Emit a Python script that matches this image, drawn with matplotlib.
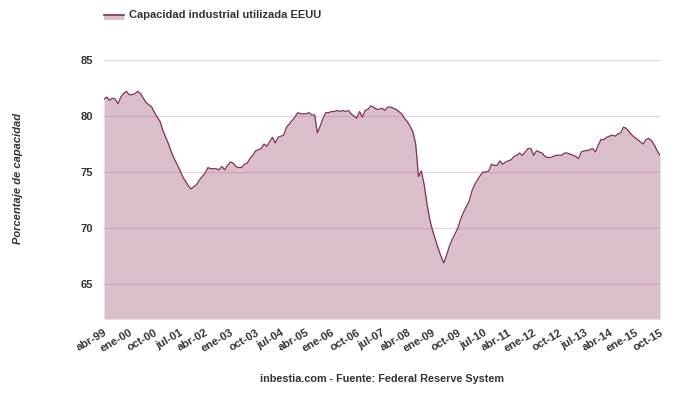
import matplotlib
matplotlib.use("Agg")
import matplotlib.pyplot as plt
from matplotlib.patches import Rectangle
from matplotlib.lines import Line2D

plt.rcParams['font.family'] = ['Liberation Sans', 'DejaVu Sans']

months_es = ["ene", "feb", "mar", "abr", "may", "jun", "jul", "ago", "sep", "oct", "nov", "dic"]
start_year, start_month = 1999, 4  # abr-99

capacity = [
    81.5, 81.7, 81.4, 81.6, 81.5, 81.1, 81.7, 82.0, 82.2, 81.9,
    81.9, 82.0, 82.2, 82.0, 81.6, 81.2, 81.0, 80.8, 80.3, 79.9,
    79.5, 78.7, 78.1, 77.5, 76.8, 76.2, 75.7, 75.2, 74.6, 74.2,
    73.8, 73.5, 73.7, 73.9, 74.3, 74.6, 74.9, 75.4, 75.3, 75.3,
    75.3, 75.2, 75.5, 75.2, 75.6, 75.9, 75.8, 75.5, 75.4, 75.4,
    75.7, 75.8, 76.2, 76.5, 76.9, 77.0, 77.1, 77.5, 77.3, 77.7,
    78.1, 77.6, 78.1, 78.2, 78.3, 79.0, 79.3, 79.6, 79.9, 80.3,
    80.2, 80.2, 80.2, 80.3, 80.1, 80.1, 78.5, 79.1, 79.8, 80.3,
    80.3, 80.4, 80.4, 80.5, 80.4, 80.5, 80.4, 80.5, 80.2, 80.0,
    79.8, 80.4, 79.9, 80.5, 80.6, 80.9, 80.8, 80.6, 80.6, 80.7,
    80.5, 80.8, 80.8, 80.7, 80.6, 80.4, 80.2, 79.8, 79.5, 79.1,
    78.6, 77.5, 74.6, 75.1, 73.9, 72.2, 70.8, 69.8, 69.0, 68.2,
    67.5, 66.9, 67.6, 68.4, 69.0, 69.5, 70.0, 70.8, 71.4, 71.9,
    72.4, 73.3, 73.9, 74.3, 74.7, 75.0, 75.0, 75.1, 75.7, 75.6,
    75.6, 76.0, 75.7, 75.9, 76.0, 76.1, 76.4, 76.5, 76.7, 76.5,
    76.8, 77.1, 77.1, 76.5, 76.9, 76.8, 76.7, 76.4, 76.3, 76.3,
    76.4, 76.5, 76.5, 76.5, 76.7, 76.7, 76.6, 76.5, 76.4, 76.2,
    76.8, 76.9, 76.9, 77.0, 77.1, 76.8, 77.4, 77.9, 77.9, 78.1,
    78.2, 78.3, 78.2, 78.4, 78.5, 79.0, 78.9, 78.6, 78.3, 78.1,
    77.9, 77.7, 77.5, 77.9, 78.0, 77.8, 77.4, 76.9, 76.5,
]

categories = []
for i in range(len(capacity)):
    m = (start_month - 1 + i) % 12
    y = start_year + (start_month - 1 + i) // 12
    categories.append(f"{months_es[m]}-{y % 100:02d}")

tick_step = 9
y_ticks = [65, 70, 75, 80, 85]
series_name = "Capacidad industrial utilizada EEUU"
y_title = "Porcentaje de capacidad"
footer = "inbestia.com - Fuente: Federal Reserve System"

line_color = "#7e3058"
fill_color = "#b47592"
grid_color = "#ecd0dc"
text_color = "#333333"

fig = plt.figure(figsize=(6.8, 3.97), dpi=100)
ax = fig.add_axes([0.1529, 0.1965, 0.8177, 0.6525])

x = list(range(len(capacity)))
ymin = 61.9
ax.fill_between(x, capacity, ymin, color=fill_color, alpha=0.47, linewidth=0, zorder=2)
ax.plot(x, capacity, color=line_color, linewidth=0.9, zorder=3)

ax.set_xlim(0, len(capacity) - 1)
ax.set_ylim(ymin, 85)
ax.set_yticks(y_ticks)
ax.set_yticklabels([str(v) for v in y_ticks], fontsize=8, fontweight='bold', color=text_color)
ax.yaxis.grid(True, color=grid_color, linewidth=0.9, zorder=1)
ax.set_axisbelow(True)

xt = list(range(0, len(capacity), tick_step))
ax.set_xticks(xt)
ax.set_xticklabels([categories[i] for i in xt], rotation=30, ha='right', va='top',
                   rotation_mode='anchor', fontsize=8, fontweight='bold', color=text_color)
ax.tick_params(axis='both', length=0)
ax.tick_params(axis='x', pad=6)
ax.tick_params(axis='y', pad=8)
for s in ax.spines.values():
    s.set_visible(False)

fig.text(0.026, 0.55, y_title, rotation=90, ha='center', va='center', fontsize=8,
         fontstyle='italic', fontweight='bold', color=text_color)
fig.text(0.562, 0.045, footer, ha='center', va='center', fontsize=7.8,
         fontweight='bold', color=text_color)

# legend
lx0, lx1, ly = 104 / 680, 124 / 680, 1 - 16 / 397
fig.patches.append(Rectangle((lx0, ly - 4 / 397), lx1 - lx0, 5 / 397, transform=fig.transFigure,
                             facecolor=fill_color, alpha=0.47, linewidth=0))
fig.lines.append(Line2D([lx0, lx1], [ly + 1 / 397, ly + 1 / 397], transform=fig.transFigure,
                        color=line_color, linewidth=1.2))
fig.text(129 / 680, 1 - 15 / 397, series_name, ha='left', va='center', fontsize=8,
         fontweight='bold', color=text_color)

fig.savefig("out.png", dpi=100)
